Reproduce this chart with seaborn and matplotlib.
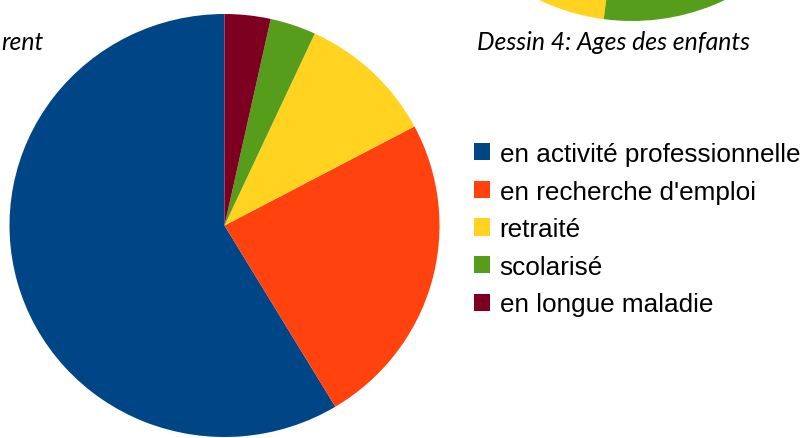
import matplotlib
matplotlib.use('Agg')
import matplotlib.pyplot as plt
import seaborn as sns

# Situation of the parent
categories = ['en activité professionnelle', "en recherche d'emploi", 'retraité',
              'scolarisé', 'en longue maladie']
counts = [17, 7, 3, 1, 1]
colors = ['#004586', '#ff420e', '#ffd320', '#579d1c', '#7e0021']

# visible bottom of the neighbouring chart (Dessin 4), fractions of the full pie
ages_visible = [0.118, 0.165]
ages_colors = ['#ffd320', '#579d1c']

sns.set_theme(style='white')
palette = sns.color_palette(colors)

W, H = 802, 439
fig = plt.figure(figsize=(W / 100, H / 100), dpi=100)


def px_axes(x0, y0, x1, y1):
    # axes from pixel box (top-left origin)
    return fig.add_axes([x0 / W, (H - y1) / H, (x1 - x0) / W, (y1 - y0) / H])


# main pie
ax = px_axes(9.5, 15, 439.5, 438)
wedges, _ = ax.pie(counts, colors=palette, startangle=90, counterclock=True,
                   wedgeprops=dict(linewidth=0))
ax.set_aspect('auto')
ax.set_xlim(-1, 1)
ax.set_ylim(-1, 1)
ax.axis('off')

# partial pie cut by the top border
ax2 = px_axes(416, -410, 848, 22)
ax2.pie(ages_visible, colors=ages_colors, startangle=-140, counterclock=True,
        normalize=False, wedgeprops=dict(linewidth=0))
ax2.set_aspect('auto')
ax2.set_xlim(-1, 1)
ax2.set_ylim(-1, 1)
ax2.axis('off')

# captions
fig.text(750 / W, 1 - 43 / H, 'Dessin 4: Ages des enfants', ha='right', va='center',
         fontsize=17.8, style='italic', family=['Lato', 'DejaVu Sans'], color='#000000')
fig.text(1 / W, 1 - 42 / H, 'rent', ha='left', va='center',
         fontsize=17.8, style='italic', family=['Lato', 'DejaVu Sans'], color='#000000')

leg = fig.legend(wedges, categories, loc='upper left',
                 bbox_to_anchor=(474 / W, 1 - 143 / H), frameon=False,
                 prop={'family': 'Liberation Sans', 'size': 18.8},
                 handlelength=0.63, handleheight=0.63, handletextpad=0.35,
                 labelspacing=0.52, borderpad=0, borderaxespad=0)
for t in leg.get_texts():
    t.set_color('#000000')

plt.savefig('out.png', dpi=100)
plt.close()
